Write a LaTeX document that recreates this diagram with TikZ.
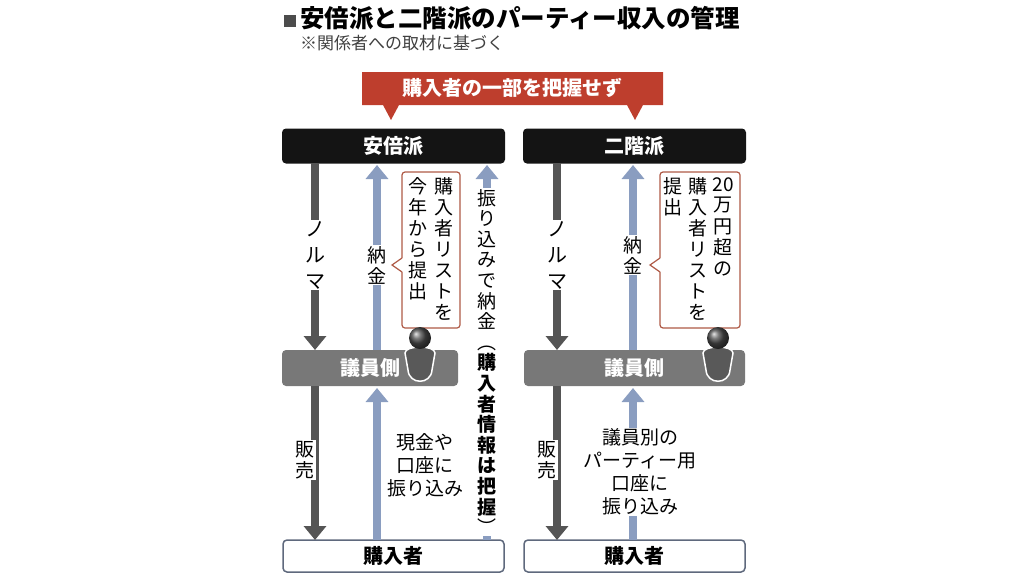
\documentclass[tikz,border=0pt]{standalone}
\usepackage{fontspec}
\newfontfamily\jp{Noto Sans CJK JP}
\usetikzlibrary{arrows.meta}
\definecolor{bannerred}{RGB}{190,62,45}
\definecolor{calloutred}{RGB}{175,90,70}
\definecolor{flowblue}{RGB}{138,157,192}
\definecolor{flowdark}{RGB}{85,85,85}
\definecolor{sidegray}{RGB}{120,120,120}
\definecolor{buyerline}{RGB}{95,105,125}
\tikzset{
  party/.style = {fill=black!92, rounded corners=4pt, minimum width=223pt, minimum height=35pt, text=white, font=\jp\bfseries\fontsize{20}{22}\selectfont},
  side/.style = {fill=sidegray, rounded corners=4pt, minimum height=36pt, text=white, font=\jp\bfseries\fontsize{20}{22}\selectfont},
  buyer/.style = {draw=buyerline, line width=1.5pt, fill=white, rounded corners=4pt, minimum width=221pt, minimum height=32pt, font=\jp\bfseries\fontsize{20}{22}\selectfont},
  down/.style = {draw=flowdark, line width=8pt, -{Triangle[width=22pt,length=14pt]}},
  up/.style = {draw=flowblue, line width=8pt, -{Triangle[width=22pt,length=14pt]}},
  vlabel/.style = {align=center, inner sep=1pt, fill=white, font=\jp\fontsize{19}{21}\selectfont},
  hlabel/.style = {align=center, inner sep=1pt, fill=white, font=\jp\fontsize{19}{23}\selectfont},
  memo/.style = {draw=calloutred, line width=1.2pt, fill=white, rounded corners=3pt},
}
\begin{document}
\begin{tikzpicture}[x=1pt, y=-1pt]
  \useasboundingbox (0,0) rectangle (1024,576);
  % title
  \node[anchor=west, inner sep=0, font=\jp\bfseries\fontsize{24.5}{26}\selectfont] (title) at (284,18) {\textcolor{black!70}{\rule{12pt}{12pt}}\,安倍派と二階派のパーティー収入の管理};
  \node[anchor=west, inner sep=0, font=\jp\fontsize{17}{19}\selectfont, text=black!75] (note) at (300,43) {※関係者への取材に基づく};
  % banner
  \fill[bannerred] (362,72) rectangle (663,105) (383,105) -- (391,120) -- (399,105) (627,105) -- (635,120) -- (643,105);
  \node[text=white, font=\jp\bfseries\fontsize{20}{22}\selectfont] (banner) at (512,88) {購入者の一部を把握せず};
  % boxes
  \node[party] (abe) at (393.5,146) {安倍派};
  \node[party] (nikai) at (634.5,146) {二階派};
  \node[side, minimum width=176pt] (abeside) at (370,368) {議員側};
  \node[side, minimum width=221pt] (nikaiside) at (634.5,368) {議員側};
  \node[buyer] (abebuyer) at (393.5,556) {購入者};
  \node[buyer] (nikaibuyer) at (634.5,556) {購入者};
  % anchors for arrows
  \coordinate (a1) at (315,163); \coordinate (a2) at (315,350);
  \coordinate (a3) at (377,350); \coordinate (a4) at (377,165);
  \coordinate (a5) at (315,386); \coordinate (a6) at (315,540);
  \coordinate (a7) at (377,540); \coordinate (a8) at (377,388);
  \coordinate (a9) at (487,540); \coordinate (a10) at (487,165);
  \coordinate (n1) at (557,163); \coordinate (n2) at (557,350);
  \coordinate (n3) at (633,350); \coordinate (n4) at (633,165);
  \coordinate (n5) at (557,386); \coordinate (n6) at (557,540);
  \coordinate (n7) at (633,540); \coordinate (n8) at (633,388);
  \draw[down] (a1) -- (a2);
  \draw[up] (a3) -- (a4);
  \draw[down] (a5) -- (a6);
  \draw[up] (a7) -- (a8);
  \draw[up] (a9) -- (a10);
  \draw[down] (n1) -- (n2);
  \draw[up] (n3) -- (n4);
  \draw[down] (n5) -- (n6);
  \draw[up] (n7) -- (n8);
  % labels
  \node[vlabel, font=\jp\fontsize{20}{26}\selectfont] (norma1) at (315,255) {ノ\\ル\\マ};
  \node[vlabel] (nokin1) at (377,265) {納\\金};
  \node[vlabel] (hanbai1) at (305,460) {販\\売};
  \node[hlabel, anchor=west] (genkin) at (386,465) {現金や\\口座に\\振り込み};
  \node[vlabel, font=\jp\fontsize{19}{20.6}\selectfont] (furikomi) at (487,362) {振\\り\\込\\み\\で\\納\\金\\︵\\{\bfseries 購}\\{\bfseries 入}\\{\bfseries 者}\\{\bfseries 情}\\{\bfseries 報}\\{\bfseries は}\\{\bfseries 把}\\{\bfseries 握}\\︶};
  \node[vlabel, font=\jp\fontsize{20}{26}\selectfont] (norma2) at (557,255) {ノ\\ル\\マ};
  \node[vlabel] (nokin2) at (633,255) {納\\金};
  \node[vlabel] (hanbai2) at (547,460) {販\\売};
  \node[hlabel] (kouza) at (640,472) {議員別の\\パーティー用\\口座に\\振り込み};
  % memos
  \draw[memo] (402,172) rectangle (460,328);
  \fill[white] (402.8,258) -- (392,265) -- (402.8,272) -- cycle;
  \draw[calloutred, line width=1.2pt] (402,258) -- (392,265) -- (402,272);
  \node[vlabel, fill=none, anchor=north] (memo1a) at (444,176) {購\\入\\者\\リ\\ス\\ト\\を};
  \node[vlabel, fill=none, anchor=north] (memo1b) at (418,176) {今\\年\\か\\ら\\提\\出};
  \draw[memo] (660,172) rectangle (740,328);
  \fill[white] (660.8,258) -- (650,265) -- (660.8,272) -- cycle;
  \draw[calloutred, line width=1.2pt] (660,258) -- (650,265) -- (660,272);
  \node[vlabel, fill=none, anchor=north] (memo2a) at (723,176) {20\\万\\円\\超\\の};
  \node[vlabel, fill=none, anchor=north] (memo2b) at (698,176) {購\\入\\者\\リ\\ス\\ト\\を};
  \node[vlabel, fill=none, anchor=north] (memo2c) at (673,176) {提\\出};
  % persons
  \foreach \px in {420,718} {
    \draw[white, line width=1.5pt, fill=black!65] (\px-15,353) .. controls (\px-15,345) and (\px+15,345) .. (\px+15,353) -- (\px+12,370) .. controls (\px+11,385) and (\px-11,385) .. (\px-12,370) -- cycle;
    \shade[ball color=black!70] (\px,338) circle (11);
  }
\end{tikzpicture}
\end{document}
